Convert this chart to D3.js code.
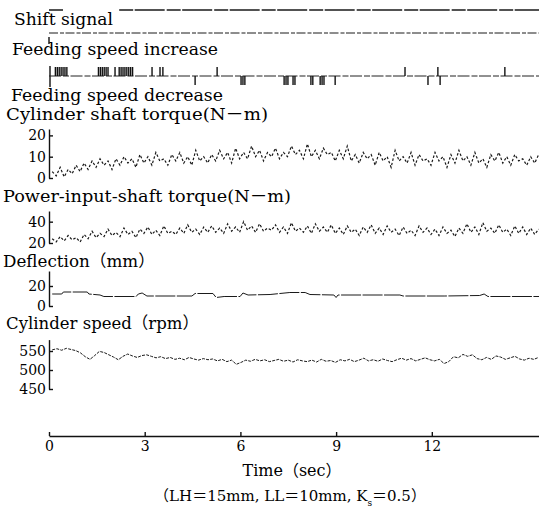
<!DOCTYPE html>
<html>
<head>
<meta charset="utf-8">
<script src="https://cdnjs.cloudflare.com/ajax/libs/d3/7.8.5/d3.min.js"></script>
<style>
  body { margin: 0; background: #fff; }
  svg { display: block; }
  .axis path, .axis line { stroke: #111; stroke-width: 1.4; }
  .axis text { font-family: "DejaVu Serif", serif; font-size: 14px; fill: #000; }
  .lbl { font-family: "DejaVu Serif", "Noto Sans CJK JP", serif; font-size: 16.5px; fill: #000; }
  .trace { fill: none; stroke: #1a1a1a; stroke-width: 1; }
</style>
</head>
<body>
<svg id="chart" width="539" height="510"></svg>
<script>
// values
var timeTicks = [0, 3, 6, 9, 12];
var timeEnd = 15.36;

// shift signal: upper trace (with a scan gap) and lower trace
var shiftUpper = [[0, 1], [0.45, 1], [0.46, null], [2.2, 1], [timeEnd, 1]];
var shiftLower = [[0, 0], [timeEnd, 0]];

// feeding speed pulses, seconds
var feedIncrease = [0.2, 0.26, 0.32, 0.38, 0.44, 0.5, 0.56,
  1.55, 1.61, 1.67, 1.73, 1.79, 1.85, 2.07,
  2.2, 2.26, 2.32, 2.38, 2.44, 2.5, 2.56, 2.62,
  3.23, 3.48, 3.57, 5.27, 11.16, 12.19, 14.29];
var feedDecrease = [4.58, 6.02, 6.08, 6.14, 7.37, 7.43, 7.49, 7.65, 7.71,
  8.21, 8.27, 8.5, 8.56, 8.62, 8.97, 11.88, 12.26];

// torques, N-m, sampled every torqueStep sec
var torqueStart = 0.1, torqueStep = 0.125;
var cylTorque = [
  3, 1, 5, 0.5, 4, 2, 6, 3,
  7, 4, 8, 5, 9, 6, 8, 4,
  9, 6, 10, 7, 9, 5, 11, 7,
  10, 6, 12, 8, 9, 6, 11, 8,
  12, 7, 10, 6, 13, 8, 10, 7,
  11, 8, 13, 9, 12, 7, 14, 9,
  12, 9, 15, 10, 13, 8, 12, 10,
  14, 9, 12, 10, 15, 11, 13, 9,
  16, 10, 13, 9, 14, 11, 12, 8,
  13, 9, 15, 8, 11, 7, 12, 9,
  11, 6, 12, 8, 10, 5, 13, 8,
  10, 7, 12, 6, 11, 8, 9, 6,
  12, 8, 10, 5, 11, 7, 13, 8,
  10, 6, 12, 7, 9, 5, 11, 8,
  12, 7, 10, 6, 11, 8, 9, 6,
  10, 7, 11];
var inputTorque = [
  24, 21, 26, 22, 27, 23, 25, 21,
  28, 24, 31, 25, 29, 26, 33, 27,
  30, 26, 34, 28, 31, 25, 33, 29,
  35, 28, 32, 27, 36, 29, 31, 28,
  34, 29, 37, 30, 33, 28, 35, 30,
  36, 30, 34, 29, 38, 31, 35, 30,
  40, 32, 36, 30, 38, 31, 34, 32,
  37, 30, 35, 29, 39, 31, 34, 30,
  36, 29, 38, 31, 35, 30, 37, 29,
  34, 28, 36, 30, 33, 27, 35, 30,
  37, 29, 34, 28, 36, 30, 33, 27,
  35, 29, 32, 27, 36, 30, 34, 28,
  33, 27, 35, 29, 32, 26, 34, 29,
  38, 30, 35, 28, 39, 31, 34, 29,
  37, 30, 33, 27, 36, 29, 35, 28,
  34, 28, 33];

// deflection, mm (step-like record)
var deflTime = [0.1, 0.4, 0.45, 1.2, 1.25, 1.6, 1.72, 2.73, 2.8, 2.92, 3.07, 4.48, 4.58, 5.14, 5.24,
  5.49, 5.99, 6.08, 6.24, 6.93, 7.55, 8.03, 8.18, 8.93, 9.0, 9.06, 11.0, 11.1, 12.41, 13.5, 13.64, 13.76, 15.36];
var deflValue = [12, 12, 14, 14, 12, 11, 9.5, 9.5, 12, 13, 10, 10, 12.5, 12.5, 8.5,
  9.5, 9.5, 13, 11, 11.5, 13.5, 13.5, 11.5, 11, 8.5, 11, 11, 10, 10, 10.5, 12, 9.5, 9.5];

// cylinder speed, rpm, sampled every speedStep sec
var speedStart = 0.1, speedStep = 0.148;
var cylSpeed = [
  553, 556, 552, 557, 554, 551,
  545, 535, 528, 538, 549, 546, 540,
  534, 527, 536, 542, 537, 533, 538,
  540, 536, 532, 535, 530, 533, 528,
  531, 527, 533, 529, 526, 530, 527,
  529, 524, 528, 522, 526, 515, 520,
  526, 523, 528, 524, 527, 522, 525,
  528, 523, 526, 521, 527, 524, 522,
  526, 521, 528, 523, 525, 520, 527,
  524, 528, 522, 526, 531, 524, 527,
  523, 529, 525, 522, 527, 531, 526,
  530, 524, 528, 532, 527, 524, 528,
  517, 522, 535, 532, 541, 536, 540,
  530, 527, 533, 528, 537, 534, 528,
  532, 536, 529, 526, 531, 528, 533];

var svg = d3.select("#chart");

var x = d3.scaleLinear().domain([0, timeEnd]).range([49, 539]);
var yShift = d3.scaleLinear().domain([0, 1]).range([33, 10]);
var yFeed = d3.scaleLinear().domain([-1, 1]).range([85, 67]);
var yCyl = d3.scaleLinear().domain([0, 23]).range([178, 129]);
var yPow = d3.scaleLinear().domain([20, 50]).range([243, 211]);
var yDef = d3.scaleLinear().domain([0, 35]).range([306, 271]);
var ySpd = d3.scaleLinear().domain([450, 580]).range([389, 339.6]);

function label(txt, x0, y0, w) {
  svg.append("text")
    .attr("class", "lbl")
    .attr("x", x0)
    .attr("y", y0)
    .attr("textLength", w)
    .attr("lengthAdjust", "spacingAndGlyphs")
    .text(txt);
}

label("Shift signal", 14, 25, 99);
label("Feeding speed increase", 12, 55, 206);
label("Feeding speed decrease", 11, 101, 212);
label("Cylinder shaft torque(N－m)", 6, 120, 262);
label("Power-input-shaft torque(N－m)", 3, 202, 288);
label("Deflection（mm）", 3, 267, 152);
label("Cylinder speed（rpm）", 6, 329, 193);

// shift signal
var stepLine = d3.line()
  .defined(function(d) { return d[1] !== null; })
  .x(function(d) { return x(d[0]); })
  .y(function(d) { return yShift(d[1]); });

svg.append("path").attr("class", "trace")
  .attr("d", stepLine(shiftUpper))
  .style("stroke-width", 1.3)
  .style("stroke-dasharray", "14,1.5,30,2");
svg.append("path").attr("class", "trace")
  .attr("d", stepLine(shiftLower))
  .style("stroke-dasharray", "9,2,4,1.5");
svg.append("line")
  .attr("x1", x(0)).attr("x2", x(0))
  .attr("y1", 37).attr("y2", 44)
  .style("stroke", "#111").style("stroke-width", 1.4);

// feeding speed pulses
svg.append("line")
  .attr("x1", x(0) + 1).attr("x2", x(0) + 1)
  .attr("y1", yFeed(1) - 1).attr("y2", yFeed(-1) + 2)
  .style("stroke", "#111").style("stroke-width", 1.4);
svg.append("line")
  .attr("x1", x(0)).attr("x2", x(timeEnd))
  .attr("y1", yFeed(0)).attr("y2", yFeed(0))
  .style("stroke", "#222").style("stroke-width", 1)
  .style("stroke-dasharray", "12,2,6,1.5");

svg.append("g").selectAll("line.inc")
  .data(feedIncrease)
  .enter().append("line")
  .attr("x1", function(d) { return x(d); })
  .attr("x2", function(d) { return x(d); })
  .attr("y1", yFeed(0))
  .attr("y2", yFeed(1))
  .style("stroke", "#111").style("stroke-width", 1.4);

svg.append("g").selectAll("line.dec")
  .data(feedDecrease)
  .enter().append("line")
  .attr("x1", function(d) { return x(d); })
  .attr("x2", function(d) { return x(d); })
  .attr("y1", yFeed(0))
  .attr("y2", yFeed(-1))
  .style("stroke", "#111").style("stroke-width", 1.4);

// analog traces
function drawAxis(scale, ticks) {
  svg.append("g")
    .attr("class", "axis")
    .attr("transform", "translate(" + x(0) + ",0)")
    .call(d3.axisLeft(scale).tickValues(ticks).tickSizeInner(-4).tickSizeOuter(0).tickPadding(3));
}

function sampled(values, t0, dt, y) {
  return d3.line()
    .x(function(d, i) { return x(t0 + i * dt); })
    .y(function(d) { return y(d); })(values);
}

drawAxis(yCyl, [0, 10, 20]);
svg.append("path").attr("class", "trace")
  .attr("d", sampled(cylTorque, torqueStart, torqueStep, yCyl))
  .style("stroke-width", 1.2)
  .style("stroke-dasharray", "2.5,2");

drawAxis(yPow, [20, 40]);
svg.append("path").attr("class", "trace")
  .attr("d", sampled(inputTorque, torqueStart, torqueStep, yPow))
  .style("stroke-width", 1.2)
  .style("stroke-dasharray", "2.5,2");

drawAxis(yDef, [0, 20]);
svg.append("path").attr("class", "trace")
  .attr("d", d3.line()
    .x(function(d, i) { return x(deflTime[i]); })
    .y(function(d) { return yDef(d); })(deflValue))
  .style("stroke-dasharray", "20,1.5");

drawAxis(ySpd, [450, 500, 550]);
svg.append("path").attr("class", "trace")
  .attr("d", sampled(cylSpeed, speedStart, speedStep, ySpd))
  .style("stroke-dasharray", "3,1.2");

// time axis
svg.append("g")
  .attr("class", "axis")
  .attr("transform", "translate(0,436)")
  .call(d3.axisBottom(x).tickValues(timeTicks).tickSizeInner(-4).tickSizeOuter(0).tickPadding(5));

svg.append("text")
  .attr("class", "lbl")
  .attr("x", 292).attr("y", 476)
  .attr("text-anchor", "middle")
  .style("font-size", "16px")
  .text("Time（sec）");

var cap = svg.append("text")
  .attr("class", "lbl")
  .attr("x", 290).attr("y", 501)
  .attr("text-anchor", "middle")
  .style("font-size", "15px");
cap.append("tspan").text("（LH＝15mm, LL＝10mm, K");
cap.append("tspan").attr("baseline-shift", "sub").style("font-size", "9px").text("s");
cap.append("tspan").text("＝0.5）");
</script>
</body>
</html>
